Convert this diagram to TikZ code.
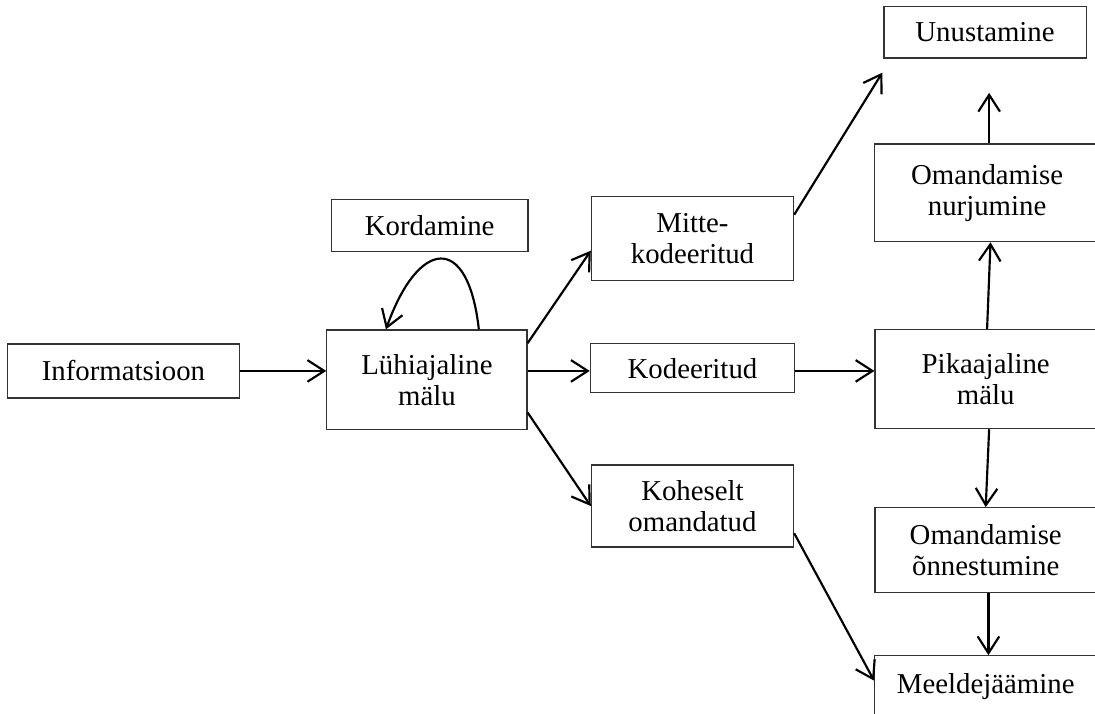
\documentclass[tikz,border=0pt]{standalone}
\usepackage{fontspec}
\setmainfont{Liberation Serif}
\usetikzlibrary{arrows.meta,positioning,calc}

\begin{document}
\begin{tikzpicture}[
    box/.style={draw=black!80,line width=0.5pt,rectangle,align=center,inner sep=2pt,
      font=\fontsize{12}{13}\selectfont},
    arr/.style={line width=0.9pt,-{Straight Barb[length=7pt,width=9pt]}}]
      \useasboundingbox (-6.25,5.56) rectangle (9.78,-4.88);

      \node[box,minimum width=2.93cm,minimum height=1.46cm] (lyhi) at (0,0) {Lühiajaline\\mälu};
      \node[box,minimum width=3.40cm,minimum height=0.79cm,left = 1.26 cm of lyhi,yshift=0.13cm] (info) {Informatsioon};
      \node[box,minimum width=2.88cm,minimum height=0.76cm,above = 1.13 cm of lyhi,xshift=0.04cm] (kord) {Kordamine};

      \node[box,minimum width=2.99cm,minimum height=0.72cm,right = 0.91 cm of lyhi,yshift=0.17cm] (kod) {Kodeeritud};
      \node[box,minimum width=2.96cm,minimum height=1.23cm,above = 0.91 cm of kod] (mitte) {Mitte-\\kodeeritud};
      \node[box,minimum width=2.96cm,minimum height=1.20cm,below = 1.04 cm of kod] (kohe) {Koheselt\\omandatud};

      \node[box,minimum width=3.24cm,minimum height=1.45cm,right = 1.16 cm of kod,yshift=-0.16cm] (pika) {Pikaajaline\\mälu};
      \node[box,minimum width=3.30cm,minimum height=1.43cm,above = 1.27 cm of pika,xshift=0.02cm] (nurj) {Omandamise\\nurjumine};
      \node[box,minimum width=2.96cm,minimum height=0.76cm,above = 1.24 cm of nurj,xshift=-0.03cm] (unust) {Unustamine};
      \node[box,minimum width=3.24cm,minimum height=1.24cm,below = 1.14 cm of pika] (onne) {Omandamise\\õnnestumine};
      \node[box,minimum width=3.25cm,minimum height=0.90cm,below = 0.91 cm of onne] (meel) {Meeldejäämine};

      % free ends below Unustamine
      \coordinate (unustin) at ($(unust.south west)+(-0.015,-0.205)$);
      \coordinate (unustup) at ($(unust.south)+(0.06,-0.50)$);

      \draw[arr] (info.east) -- (info.east -| lyhi.west);
      \draw[arr] ([xshift=0.76cm]lyhi.north) .. controls +(-0.16,1.43) and +(0.47,1.32) .. ([xshift=-0.6cm]lyhi.north);

      \draw[arr] (lyhi.20) -- (mitte.187);
      \draw[arr] (lyhi.east |- info.east) -- (lyhi.east |- info.east -| kod.west);
      \draw[arr] (lyhi.-18) -- (kohe.west);

      \draw[arr] (mitte.13) -- (unustin);
      \draw[arr] (kod.east |- info.east) -- (kod.east |- info.east -| pika.west);
      \draw[arr] (kohe.-15) -- (meel.177);

      \draw[arr] ([xshift=0.02cm]pika.north) -- ([xshift=0.05cm]nurj.south);
      \draw[arr] (nurj.north -| unustup) -- (unustup);
      \draw[arr] ([xshift=0.05cm]pika.south) -- (onne.north);
      \draw[arr] ([xshift=0.04cm]onne.south) -- ([xshift=0.04cm]meel.north);
    \end{tikzpicture}
\end{document}
